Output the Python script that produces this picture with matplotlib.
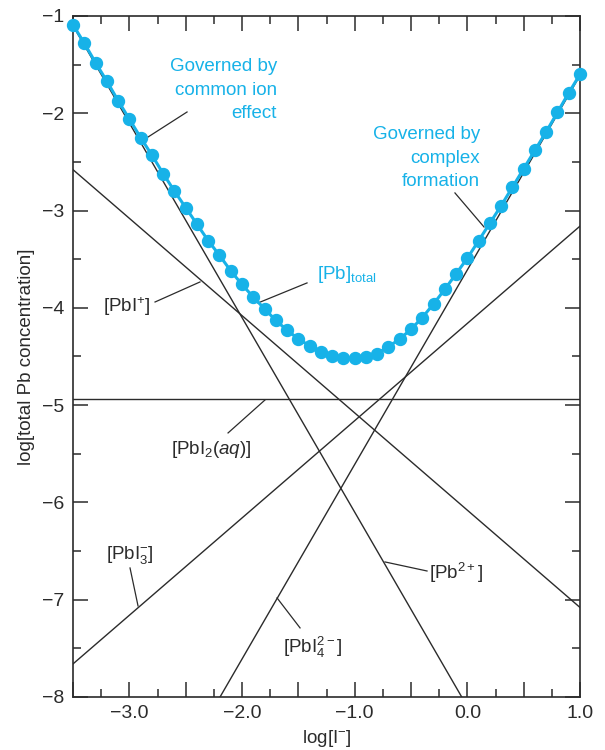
import numpy as np
import matplotlib
matplotlib.use("Agg")
import matplotlib.pyplot as plt
from matplotlib.ticker import MultipleLocator, FuncFormatter

plt.rcParams['font.family'] = ['Liberation Sans', 'DejaVu Sans']
plt.rcParams['mathtext.fontset'] = 'custom'
plt.rcParams['mathtext.rm'] = 'Liberation Sans'
plt.rcParams['mathtext.it'] = 'Liberation Sans:italic'
plt.rcParams['mathtext.default'] = 'regular'

CYAN = '#17b2e8'
INK = '#2b2b2b'

# log[I-] and total Pb
log_i = [-3.5, -3.4, -3.3, -3.2, -3.1, -3.0, -2.9, -2.8, -2.7, -2.6,
         -2.5, -2.4, -2.3, -2.2, -2.1, -2.0, -1.9, -1.8, -1.7, -1.6,
         -1.5, -1.4, -1.3, -1.2, -1.1, -1.0, -0.9, -0.8, -0.7, -0.6,
         -0.5, -0.4, -0.3, -0.2, -0.1, 0.0, 0.1, 0.2, 0.3, 0.4,
         0.5, 0.6, 0.7, 0.8, 0.9, 1.0]
log_pb_total = [-1.09, -1.28, -1.48, -1.67, -1.87, -2.06, -2.25, -2.43, -2.62, -2.80,
                -2.97, -3.14, -3.31, -3.46, -3.62, -3.76, -3.89, -4.01, -4.13, -4.23,
                -4.32, -4.39, -4.45, -4.50, -4.52, -4.52, -4.51, -4.47, -4.40, -4.32,
                -4.22, -4.10, -3.96, -3.81, -3.65, -3.49, -3.31, -3.13, -2.95, -2.76,
                -2.57, -2.38, -2.19, -1.99, -1.79, -1.60]

# species lines: value at log[I-] = -3.5 and at 1.0
line_x = [-3.5, 1.0]
pb2 = [-1.10, -10.10]
pbi = [-2.58, -7.08]
pbi2 = [-4.94, -4.94]
pbi3 = [-7.66, -3.16]
pbi4 = [-10.61, -1.61]

fig = plt.figure(figsize=(6.05, 7.5), dpi=100)
ax = fig.add_axes([0.1207, 0.0707, 0.838, 0.908])

for ys in [pb2, pbi, pbi2, pbi3, pbi4]:
    ax.plot(line_x, ys, color=INK, lw=1.0, zorder=2)

ax.plot(log_i, log_pb_total, color=CYAN, lw=2.2, marker='o', ms=8.6,
        mec=CYAN, mfc=CYAN, zorder=3, clip_on=False)

ax.set_xlim(-3.5, 1.0)
ax.set_ylim(-8, -1)

ax.xaxis.set_major_locator(MultipleLocator(0.5))
ax.xaxis.set_minor_locator(MultipleLocator(0.25))
ax.yaxis.set_major_locator(MultipleLocator(1))
ax.yaxis.set_minor_locator(MultipleLocator(0.5))


def xfmt(v, pos):
    if abs(v - round(v)) < 1e-6:
        return '{:.1f}'.format(v).replace('-', '\u2212')
    return ''


ax.xaxis.set_major_formatter(FuncFormatter(xfmt))
ax.yaxis.set_major_formatter(FuncFormatter(lambda v, p: '{:d}'.format(int(round(v))).replace('-', '\u2212')))

ax.tick_params(which='both', direction='in', top=True, right=True, color=INK,
               labelsize=14, labelcolor=INK, width=1.1)
ax.tick_params(which='major', length=11, pad=6)
ax.tick_params(which='minor', length=5.5)
for s in ax.spines.values():
    s.set_linewidth(1.2)
    s.set_color(INK)

FS = 13.5
ax.set_xlabel(r'log[I$^{-}$]', fontsize=FS, color=INK, labelpad=4)
ax.set_ylabel('log[total Pb concentration]', fontsize=FS, color=INK, labelpad=5)

# cyan annotations
ax.text(-1.689, -1.761, 'Governed by\ncommon ion\neffect', color=CYAN, fontsize=FS,
        ha='right', va='center', linespacing=1.5)
ax.plot([-2.488, -2.861], [-1.987, -2.264], color=INK, lw=0.9)
ax.text(0.112, -2.46, 'Governed by\ncomplex\nformation', color=CYAN, fontsize=FS,
        ha='right', va='center', linespacing=1.5)
ax.plot([-0.110, 0.148], [-2.819, -3.169], color=INK, lw=0.9)
ax.text(-1.334, -3.662, r'[Pb]$_{total}$', color=CYAN, fontsize=FS, ha='left', va='center')
ax.plot([-1.423, -1.858], [-3.744, -3.95], color=INK, lw=0.9)

# species labels
ax.text(-3.021, -3.991, r'[PbI$^{+}$]', color=INK, fontsize=FS, ha='center', va='center')
ax.plot([-2.772, -2.373], [-3.940, -3.734], color=INK, lw=0.9)
ax.text(-2.275, -5.461, r'[PbI$_{2}$($\mathit{aq}$)]', color=INK, fontsize=FS, ha='center', va='center')
ax.plot([-2.124, -1.796], [-5.286, -4.947], color=INK, lw=0.9)
ax.text(-2.994, -6.540, r'[PbI$_{3}^{-}$]', color=INK, fontsize=FS, ha='center', va='center')
ax.plot([-2.994, -2.923], [-6.674, -7.064], color=INK, lw=0.9)
ax.text(-1.370, -7.496, r'[PbI$_{4}^{2-}$]', color=INK, fontsize=FS, ha='center', va='center')
ax.plot([-1.689, -1.485], [-6.982, -7.29], color=INK, lw=0.9)
ax.text(-0.101, -6.725, r'[Pb$^{2+}$]', color=INK, fontsize=FS, ha='center', va='center')
ax.plot([-0.731, -0.358], [-6.612, -6.705], color=INK, lw=0.9)

fig.savefig('out.png', dpi=100)
